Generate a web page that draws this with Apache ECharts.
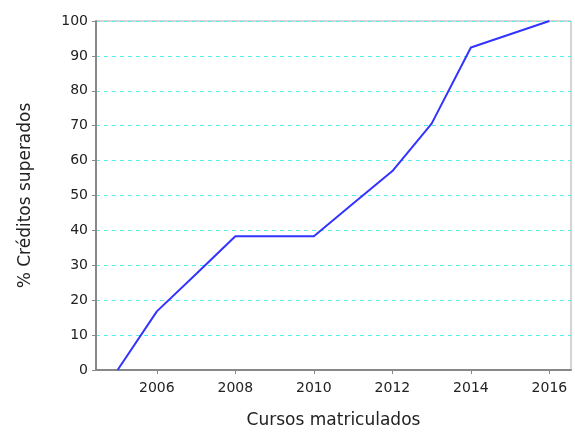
<!DOCTYPE html>
<html>
<head>
<meta charset="utf-8">
<script src="https://cdn.jsdelivr.net/npm/echarts@6/dist/echarts.min.js"></script>
<style>
  html, body { margin: 0; padding: 0; background: #fff; }
  #chart { width: 575px; height: 434px; }
</style>
</head>
<body>
<div id="chart"></div>
<script>
var years = [2005, 2006, 2007, 2008, 2009, 2010, 2011, 2012, 2013, 2014, 2015, 2016];
var credits = [0, 16.8, 27.5, 38.3, 38.3, 38.3, 47.7, 57, 70.6, 92.4, 96.2, 100];
var yearTicks = [2006, 2008, 2010, 2012, 2014, 2016];

var chart = echarts.init(document.getElementById('chart'));

var points = years.map(function (y, i) { return [y, credits[i]]; });

var option = {
  animation: false,
  textStyle: { fontFamily: 'DejaVu Sans' },
  grid: {
    left: 96, right: 4, top: 21, bottom: 62,
    show: true, borderColor: '#aaaaaa', borderWidth: 1
  },
  xAxis: {
    type: 'value',
    min: 2004.45,
    max: 2016.55,
    name: 'Cursos matriculados',
    nameLocation: 'middle',
    nameGap: 42,
    nameTextStyle: { fontSize: 17, color: '#222' },
    axisLine: { lineStyle: { color: '#888', width: 2 } },
    axisTick: { show: true, customValues: yearTicks, length: 4, lineStyle: { color: '#888' } },
    axisLabel: {
      customValues: yearTicks, fontSize: 14, color: '#222', margin: 11,
      formatter: function (v) { return String(v); }
    },
    splitLine: { show: false }
  },
  yAxis: {
    type: 'value',
    min: 0,
    max: 100,
    interval: 10,
    name: '% Créditos superados',
    nameLocation: 'middle',
    nameGap: 62,
    nameTextStyle: { fontSize: 17, color: '#222' },
    axisLine: { show: true, lineStyle: { color: '#888', width: 2 } },
    axisTick: { show: true, length: 4, lineStyle: { color: '#888' } },
    axisLabel: { fontSize: 14, color: '#222', margin: 8 },
    splitLine: { show: true, lineStyle: { color: '#55eeee', type: [4, 4], width: 1 } }
  },
  series: [{
    type: 'line',
    data: points,
    showSymbol: false,
    lineStyle: { color: '#3333ff', width: 2 }
  }]
};

chart.setOption(option);
</script>
</body>
</html>
